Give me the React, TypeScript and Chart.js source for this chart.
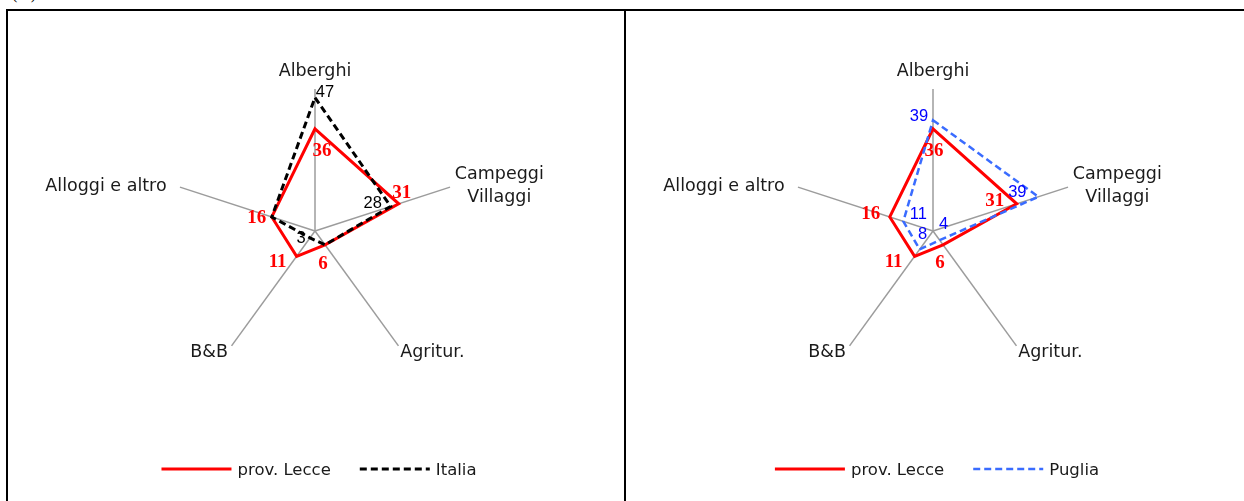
import React, { useEffect, useRef } from "react";
import { Chart, registerables } from "chart.js";

Chart.register(...registerables);

// ---------------- data ----------------
const categories: string[] = ["Alberghi", "Campeggi\nVillaggi", "Agritur.", "B&B", "Alloggi e altro"];
const lecceValues: number[] = [36, 31, 6, 11, 16];
const italiaValues: number[] = [47, 28, 6, 3, 16];
const pugliaValues: number[] = [39, 39, 4, 8, 11];
const lecceName = "prov. Lecce";
const italiaName = "Italia";
const pugliaName = "Puglia";
const scaleMin = 0;
const scaleMax = 50;

// ---------------- layout / style ----------------
const W = 616;
const H = 490;
const SANS = '"DejaVu Sans", sans-serif';
const TEXT_COLOR = "#1a1a1a";
const PL_FS = 17.5;
const PL_LH = 23;
const LEG_FS = 16.5;
const LEG_Y = 458;
const LEG_CX = 311;
const LEG_LINE = 70;
const LEG_GAP = 6;
const LEG_ITEM_GAP = 29;

type Off = [number, number] | null;

const pointLabelPlacement = [
  { dist: 161, align: "center", dy: 0 },
  { dist: 147, align: "left", dy: -1 },
  { dist: 145, align: "left", dy: 2 },
  { dist: 148, align: "right", dy: 0 },
  { dist: 156, align: "right", dy: 2 },
];

const leftLecceOffsets: Off[] = [[7, 21], [3, -12], [-2, 18], [-19, 4], [-15, 0]];
const leftItaliaOffsets: Off[] = [[10, -6], [-18, -4], null, [-9, -1], null];
const rightLecceOffsets: Off[] = [[1, 21], [-22, -4], [-3, 17], [-21, 4], [-19, -4]];
const rightPugliaOffsets: Off[] = [[-14, -5], [-21, -6], [4, -17], [3, -16], [15, -8]];

const RED_FONT = 'bold 19px "Liberation Serif", serif';
const NUM_FONT = '16.5px "Liberation Sans", sans-serif';

const pointLabelPlugin = {
  id: "customPointLabels",
  afterDraw(chart: any) {
    const scale = chart.scales.r;
    const ctx = chart.ctx as CanvasRenderingContext2D;
    ctx.save();
    ctx.font = `${PL_FS}px ${SANS}`;
    ctx.fillStyle = TEXT_COLOR;
    ctx.textBaseline = "alphabetic";
    ctx.textAlign = "center";
    (chart.data.labels as string[]).forEach((lab, i) => {
      const p = pointLabelPlacement[i];
      const pos = scale.getPointPosition(i, p.dist);
      const lines = String(lab).split("\n");
      const bw = Math.max(...lines.map((l) => ctx.measureText(l).width));
      let cx = pos.x;
      if (p.align === "left") cx = pos.x + bw / 2;
      else if (p.align === "right") cx = pos.x - bw / 2;
      lines.forEach((l, k) => {
        const cy = pos.y + p.dy + (k - (lines.length - 1) / 2) * PL_LH;
        ctx.fillText(l, cx, cy + 0.365 * PL_FS);
      });
    });
    ctx.restore();
  },
};

type ValueSpec = { font: string; color: string; capHalf: number; offsets: Off[] };

function makeValueLabelPlugin(specs: ValueSpec[]) {
  return {
    id: "valueLabels",
    afterDraw(chart: any) {
      const ctx = chart.ctx as CanvasRenderingContext2D;
      specs.forEach((s, d) => {
        const meta = chart.getDatasetMeta(d);
        const values = chart.data.datasets[d].data as number[];
        ctx.save();
        ctx.font = s.font;
        ctx.fillStyle = s.color;
        ctx.textAlign = "center";
        ctx.textBaseline = "alphabetic";
        meta.data.forEach((el: any, i: number) => {
          const o = s.offsets[i];
          if (!o) return;
          ctx.fillText(String(values[i]), el.x + o[0], el.y + o[1] + s.capHalf);
        });
        ctx.restore();
      });
    },
  };
}

const legendPlugin = {
  id: "customLegend",
  afterDraw(chart: any) {
    const ctx = chart.ctx as CanvasRenderingContext2D;
    const ds = chart.data.datasets as any[];
    ctx.save();
    ctx.font = `${LEG_FS}px ${SANS}`;
    const widths = ds.map((d) => ctx.measureText(d.label).width);
    const total =
      widths.reduce((a, w) => a + LEG_LINE + LEG_GAP + w, 0) + LEG_ITEM_GAP * (ds.length - 1);
    let x = LEG_CX - total / 2;
    ds.forEach((d, i) => {
      ctx.beginPath();
      ctx.strokeStyle = d.borderColor;
      ctx.lineWidth = d.borderWidth;
      ctx.setLineDash(d.borderDash || []);
      ctx.moveTo(x, LEG_Y);
      ctx.lineTo(x + LEG_LINE, LEG_Y);
      ctx.stroke();
      ctx.setLineDash([]);
      ctx.fillStyle = TEXT_COLOR;
      ctx.textAlign = "left";
      ctx.textBaseline = "alphabetic";
      ctx.fillText(d.label, x + LEG_LINE + LEG_GAP, LEG_Y + 0.365 * LEG_FS);
      x += LEG_LINE + LEG_GAP + widths[i] + LEG_ITEM_GAP;
    });
    ctx.restore();
  },
};

type PanelProps = {
  left: number;
  otherName: string;
  otherValues: number[];
  otherColor: string;
  otherWidth: number;
  otherLabelColor: string;
  lecceOffsets: Off[];
  otherOffsets: Off[];
};

function RadarPanel(props: PanelProps) {
  const ref = useRef<HTMLCanvasElement>(null);
  useEffect(() => {
    const chart = new Chart(ref.current as HTMLCanvasElement, {
      type: "radar",
      data: {
        labels: categories,
        datasets: [
          {
            label: lecceName,
            data: lecceValues,
            borderColor: "#ff0000",
            borderWidth: 3,
            backgroundColor: "transparent",
            fill: false,
            borderJoinStyle: "miter",
            pointRadius: 0,
            order: 1,
          } as any,
          {
            label: props.otherName,
            data: props.otherValues,
            borderColor: props.otherColor,
            borderWidth: props.otherWidth,
            borderDash: [7, 4],
            backgroundColor: "transparent",
            fill: false,
            borderJoinStyle: "miter",
            pointRadius: 0,
            order: 0,
          } as any,
        ],
      },
      options: {
        responsive: false,
        animation: false,
        layout: { padding: { left: 165, top: 78, right: 167, bottom: 128 } },
        plugins: { legend: { display: false }, tooltip: { enabled: false } },
        elements: { line: { tension: 0 }, point: { radius: 0 } },
        scales: {
          r: {
            min: scaleMin,
            max: scaleMax,
            ticks: { display: false },
            grid: { display: false },
            angleLines: { display: true, color: "#9c9c9c", lineWidth: 1.5 },
            pointLabels: { display: false },
          },
        },
      } as any,
      plugins: [
        pointLabelPlugin,
        makeValueLabelPlugin([
          { font: RED_FONT, color: "#ff0000", capHalf: 6.4, offsets: props.lecceOffsets },
          { font: NUM_FONT, color: props.otherLabelColor, capHalf: 5.9, offsets: props.otherOffsets },
        ]),
        legendPlugin,
      ],
    });
    return () => chart.destroy();
  }, []);
  return (
    <canvas
      ref={ref}
      width={W}
      height={H}
      style={{ position: "absolute", left: props.left, top: 11, width: W, height: H }}
    />
  );
}

export default function App() {
  return (
    <div
      style={{
        position: "absolute",
        left: 0,
        top: 0,
        width: 1244,
        height: 501,
        overflow: "hidden",
        background: "#fff",
      }}
    >
      <div
        style={{
          position: "absolute",
          left: 12,
          top: -15,
          font: '16px "Liberation Serif", serif',
          color: "#000",
          whiteSpace: "nowrap",
        }}
      >
        (%).
      </div>
      <div style={{ position: "absolute", left: 6, top: 9, width: 1240, height: 2, background: "#000" }} />
      <div style={{ position: "absolute", left: 6, top: 9, width: 2, height: 492, background: "#000" }} />
      <div style={{ position: "absolute", left: 624, top: 9, width: 2, height: 492, background: "#000" }} />
      <RadarPanel
        left={8}
        otherName={italiaName}
        otherValues={italiaValues}
        otherColor="#000000"
        otherWidth={3}
        otherLabelColor="#000000"
        lecceOffsets={leftLecceOffsets}
        otherOffsets={leftItaliaOffsets}
      />
      <RadarPanel
        left={626}
        otherName={pugliaName}
        otherValues={pugliaValues}
        otherColor="#3a6cff"
        otherWidth={2.5}
        otherLabelColor="#0000ff"
        lecceOffsets={rightLecceOffsets}
        otherOffsets={rightPugliaOffsets}
      />
    </div>
  );
}
